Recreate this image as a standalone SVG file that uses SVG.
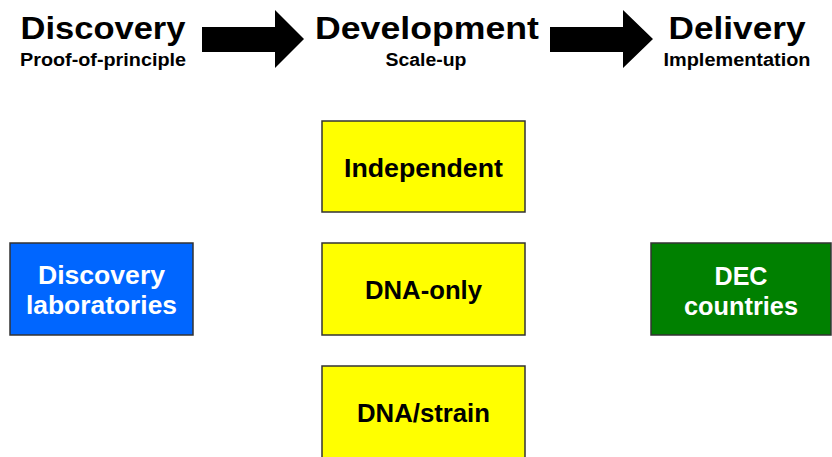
<svg xmlns="http://www.w3.org/2000/svg" width="832" height="457" viewBox="0 0 832 457">
<style>
text{font-family:"Liberation Sans",Arial,sans-serif;font-weight:bold;text-anchor:middle}
.h{font-size:31px;fill:#000}
.s{font-size:17.5px;fill:#000}
.b{font-size:25.5px}
.box{stroke:#333;stroke-width:1.5}
.arrow{fill:#000}
</style>
<rect width="832" height="457" fill="#fff"/>
<g id="stage-discovery">
<text class="h" x="103" y="39" textLength="165" lengthAdjust="spacingAndGlyphs">Discovery</text>
<text class="s" x="103" y="66" textLength="166" lengthAdjust="spacingAndGlyphs">Proof-of-principle</text>
</g>
<g id="stage-development">
<text class="h" x="427" y="39" textLength="224" lengthAdjust="spacingAndGlyphs">Development</text>
<text class="s" x="426" y="66" textLength="81" lengthAdjust="spacingAndGlyphs">Scale-up</text>
</g>
<g id="stage-delivery">
<text class="h" x="737" y="39" textLength="137" lengthAdjust="spacingAndGlyphs">Delivery</text>
<text class="s" x="737" y="66" textLength="147" lengthAdjust="spacingAndGlyphs">Implementation</text>
</g>
<g id="connectors">
<polygon class="arrow" points="202,27 275,27 275,10 304,39 275,68 275,52 202,52"/>
<polygon class="arrow" points="550,27 623,27 623,10 653,39 623,68 623,52 550,52"/>
</g>
<g id="discovery-laboratories">
<rect class="box" x="10" y="243" width="183" height="92" fill="#0066FF"/>
<text class="b" x="101.5" y="284" fill="#fff" textLength="127" lengthAdjust="spacingAndGlyphs">Discovery</text>
<text class="b" x="101.5" y="314" fill="#fff" textLength="151" lengthAdjust="spacingAndGlyphs">laboratories</text>
</g>
<g id="independent">
<rect class="box" x="322" y="121" width="203" height="91" fill="#FFFF00"/>
<text class="b" x="423.5" y="177" fill="#000" textLength="159" lengthAdjust="spacingAndGlyphs">Independent</text>
</g>
<g id="dna-only">
<rect class="box" x="322" y="243" width="203" height="92" fill="#FFFF00"/>
<text class="b" x="423.5" y="299" fill="#000" textLength="117" lengthAdjust="spacingAndGlyphs">DNA-only</text>
</g>
<g id="dna-strain">
<rect class="box" x="322" y="366" width="203" height="95" fill="#FFFF00"/>
<text class="b" x="423.5" y="422" fill="#000" textLength="133" lengthAdjust="spacingAndGlyphs">DNA/strain</text>
</g>
<g id="dec-countries">
<rect class="box" x="651" y="243" width="180" height="92" fill="#008000"/>
<text class="b" x="741" y="285" fill="#fff" textLength="53" lengthAdjust="spacingAndGlyphs">DEC</text>
<text class="b" x="741" y="315" fill="#fff" textLength="114" lengthAdjust="spacingAndGlyphs">countries</text>
</g>
</svg>
